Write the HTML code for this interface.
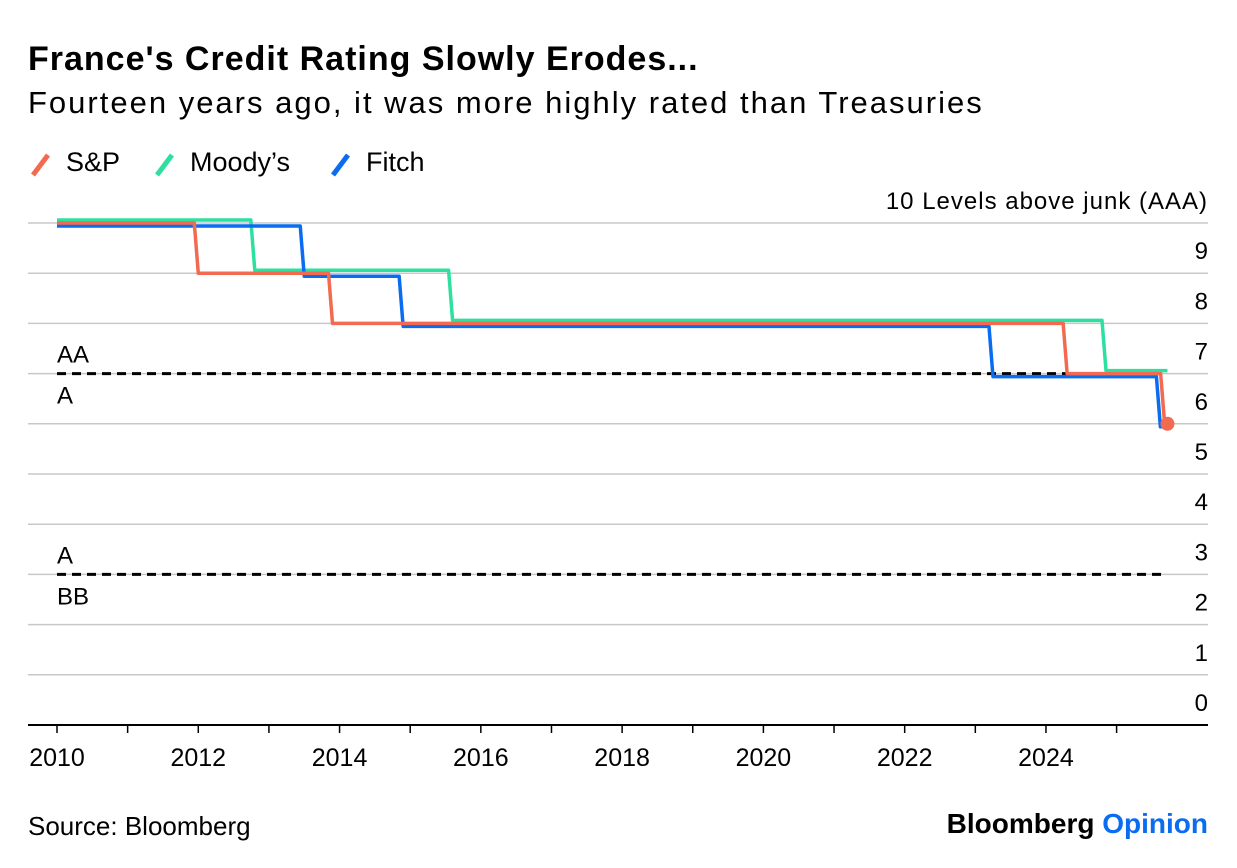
<!DOCTYPE html>
<html><head><meta charset="utf-8"><style>
body{margin:0;background:#fff;font-family:"Liberation Sans",sans-serif;}
#wrap{position:relative;width:1237px;height:868px;overflow:hidden;}
.t{position:absolute;white-space:nowrap;color:#000;}
</style></head><body>
<div id="wrap">
<div class="t" style="left:28px;top:40px;font-size:34px;font-weight:bold;letter-spacing:1px;">France's Credit Rating Slowly Erodes...</div>
<div class="t" style="left:28px;top:85px;font-size:31px;letter-spacing:2px;">Fourteen years ago, it was more highly rated than Treasuries</div>
<div>
<svg style="position:absolute;left:28px;top:150px" width="30" height="30"><line x1="5" y1="25" x2="20" y2="5" stroke="#f26b50" stroke-width="5"/></svg>
<div class="t" style="left:66px;top:147px;font-size:27px;">S&amp;P</div>
<svg style="position:absolute;left:152px;top:150px" width="30" height="30"><line x1="5" y1="25" x2="20" y2="5" stroke="#2ee0a0" stroke-width="5"/></svg>
<div class="t" style="left:190px;top:147px;font-size:27px;">Moody’s</div>
<svg style="position:absolute;left:328px;top:150px" width="30" height="30"><line x1="5" y1="25" x2="20" y2="5" stroke="#0a6cf0" stroke-width="5"/></svg>
<div class="t" style="left:366px;top:147px;font-size:27px;">Fitch</div>
</div>
<svg id="plot" style="position:absolute;left:0;top:0" width="1237" height="868"></svg>
<div class="t" style="left:28px;top:811px;font-size:26px;">Source: Bloomberg</div>
<div class="t" style="right:29px;top:808px;font-size:28px;font-weight:bold;">Bloomberg <span style="color:#0a6cf0">Opinion</span></div>
</div>
<script>
const yTicks=[0,1,2,3,4,5,6,7,8,9,10];
const xTicks=[2010,2012,2014,2016,2018,2020,2022,2024];
const spDates=[2010,2012.0,2013.9,2024.3,2025.68];
const spVals=[10,9,8,7,6];
const spEnd=2025.72;
const moodysDates=[2010,2012.8,2015.6,2024.85];
const moodysVals=[10,9,8,7];
const moodysEnd=2025.72;
const fitchDates=[2010,2013.5,2014.9,2023.25,2025.62];
const fitchVals=[10,9,8,7,6];
const fitchEnd=2025.66;
const dividers=[7,3];
const ns="http://www.w3.org/2000/svg";
const svg=document.getElementById('plot');
const X=v=>57+(v-2010)*70.64;
const Y=v=>725-v*50.2;
const FF='Liberation Sans, sans-serif';
function mk(t,a){const e=document.createElementNS(ns,t);for(const k in a)e.setAttribute(k,a[k]);svg.appendChild(e);return e;}
yTicks.forEach(v=>{
 if(v>0){const g=mk('line',{x1:28,x2:1208,y1:Y(v),y2:Y(v),stroke:'#c8c8c8','stroke-width':1.5});
 
 }
 const t=mk('text',{x:1208,y:Y(v)-14,'text-anchor':'end','font-size':24,'font-family':FF,'letter-spacing':v===10?1:0});
 t.textContent=v===10?'10 Levels above junk (AAA)':String(v);
 
 
});
const ax=mk('line',{x1:28,x2:1208,y1:725,y2:725,stroke:'#000','stroke-width':2});


for(let yr=2010;yr<=2025;yr++){
 const tk=mk('line',{x1:X(yr),x2:X(yr),y1:725,y2:733,stroke:'#000','stroke-width':1.5});
 
 
}
xTicks.forEach(yr=>{
 const t=mk('text',{x:X(yr),y:766,'text-anchor':'middle','font-size':25,'font-family':FF});
 t.textContent=yr;
 
 
});
const divLabels=[['AA','A'],['A','BB']];
dividers.forEach((v,i)=>{
 const d=mk('line',{x1:57,x2:1167,y1:Y(v),y2:Y(v),stroke:'#000','stroke-width':3,'stroke-dasharray':'9,6'});
 
 
 const a=mk('text',{x:57,y:Y(v)-11,'font-size':24,'font-family':FF});a.textContent=divLabels[i][0];
 
 
 const b=mk('text',{x:57,y:Y(v)+30,'font-size':24,'font-family':FF});b.textContent=divLabels[i][1];
 
 
});
function series(dates,vals,end,color,off,name){
 let p='M'+X(dates[0])+','+(Y(vals[0])+off);
 for(let i=1;i<dates.length;i++){
  p+='L'+(X(dates[i])-4)+','+(Y(vals[i-1])+off)+'L'+X(dates[i])+','+(Y(vals[i])+off);
 }
 p+='L'+X(end)+','+(Y(vals[vals.length-1])+off);
 const e=mk('path',{d:p,fill:'none',stroke:color,'stroke-width':3.5,'stroke-linejoin':'round'});
 
 
}
series(moodysDates,moodysVals,moodysEnd,'#2ee0a0',-3,'series-moodys');
series(fitchDates,fitchVals,fitchEnd,'#0a6cf0',3,'series-fitch');
series(spDates,spVals,spEnd,'#f26b50',0,'series-sp');
const dot=mk('circle',{cx:X(spEnd),cy:Y(spVals[spVals.length-1]),r:7,fill:'#f26b50'});


</script>
</body></html>
